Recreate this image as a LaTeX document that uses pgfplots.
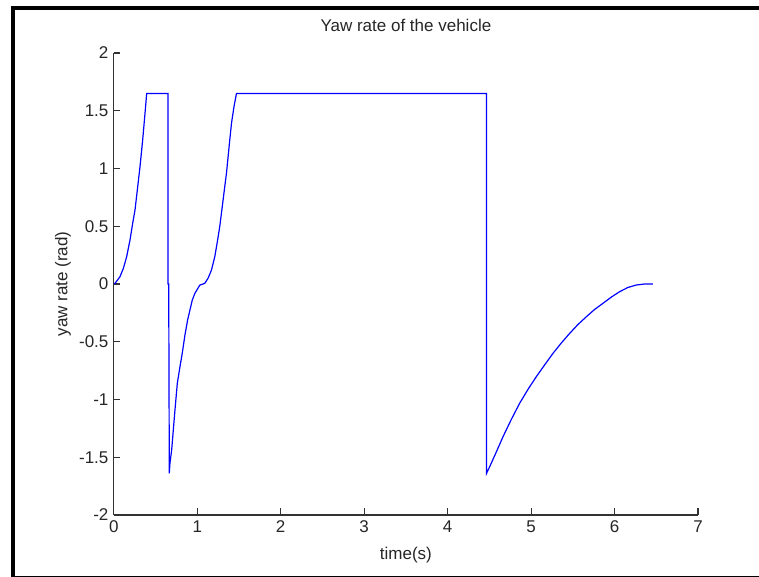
\documentclass[border=0pt]{standalone}
\usepackage{pgfplots}
\pgfplotsset{compat=1.18}
\usepackage{fontspec}
\setmainfont{Liberation Sans}

% yaw rate trace from the simulation
\pgfplotstableread{
t v
0 0
0.015 0.006
0.074 0.063
0.115 0.136
0.154 0.236
0.194 0.38
0.226 0.525
0.254 0.64
0.286 0.84
0.314 1.016
0.346 1.247
0.374 1.478
0.394 1.65
0.649 1.65
0.649 0
0.658 0
0.665 -1.64
0.673 -1.55
0.693 -1.44
0.733 -1.09
0.761 -0.86
0.793 -0.716
0.820 -0.60
0.853 -0.44
0.885 -0.31
0.94 -0.14
0.972 -0.08
1.03 -0.01
1.09 0.006
1.13 0.05
1.17 0.12
1.21 0.236
1.244 0.38
1.27 0.50
1.31 0.73
1.35 0.96
1.39 1.25
1.41 1.39
1.44 1.535
1.47 1.65
4.466 1.65
4.466 -1.64
4.505 -1.58
4.58 -1.46
4.665 -1.32
4.765 -1.17
4.865 -1.03
4.965 -0.91
5.065 -0.80
5.163 -0.70
5.263 -0.60
5.363 -0.51
5.463 -0.427
5.563 -0.35
5.663 -0.283
5.762 -0.22
5.862 -0.167
5.962 -0.113
6.062 -0.066
6.16 -0.03
6.26 -0.009
6.36 0
6.46 0
}\yawdata

\begin{document}
\begin{tikzpicture}[x=0.75pt,y=0.75pt,font=\fontsize{12.75}{15}\selectfont]
\path[use as bounding box] (0,0) rectangle (759,577);
% frame around the figure
\draw[line width=3pt] (13,0) -- (13,569) -- (759,569);
\draw[line width=1.2pt] (13,0.6) -- (759,0.6);
\begin{axis}[
  at={(85.35pt,46.5pt)}, anchor=south west,
  scale only axis, width=438.15pt, height=346.5pt,
  xmin=0, xmax=7, ymin=-2, ymax=2,
  axis x line=bottom, axis y line=left,
  axis line style={-, line width=0.8pt, black!80},
  tick align=inside, major tick length=5pt,
  tick style={line width=0.8pt, black!80},
  xtick={0,1,2,3,4,5,6,7},
  xticklabels={0,1,2,3,4,5,6,7},
  ytick={-2,-1.5,-1,-0.5,0,0.5,1,1.5,2},
  yticklabels={-2,-1.5,-1,-0.5,0,0.5,1,1.5,2},
  xticklabel style={yshift=-1pt, text=black!85},
  yticklabel style={xshift=-0.5pt, text=black!85},
  title={Yaw rate of the vehicle},
  title style={at={(axis description cs:0.5,1.0433)}, anchor=center, text=black!85},
  xlabel={time(s)},
  xlabel style={at={(axis description cs:0.5,-0.0866)}, anchor=center, text=black!85},
  ylabel={yaw rate (rad)},
  ylabel style={at={(axis description cs:-0.087,0.5)}, anchor=center, rotate=0, text=black!85},
]
\addplot[blue, line width=0.9pt] table[x=t, y=v] {\yawdata};
\end{axis}
\end{tikzpicture}
\end{document}
